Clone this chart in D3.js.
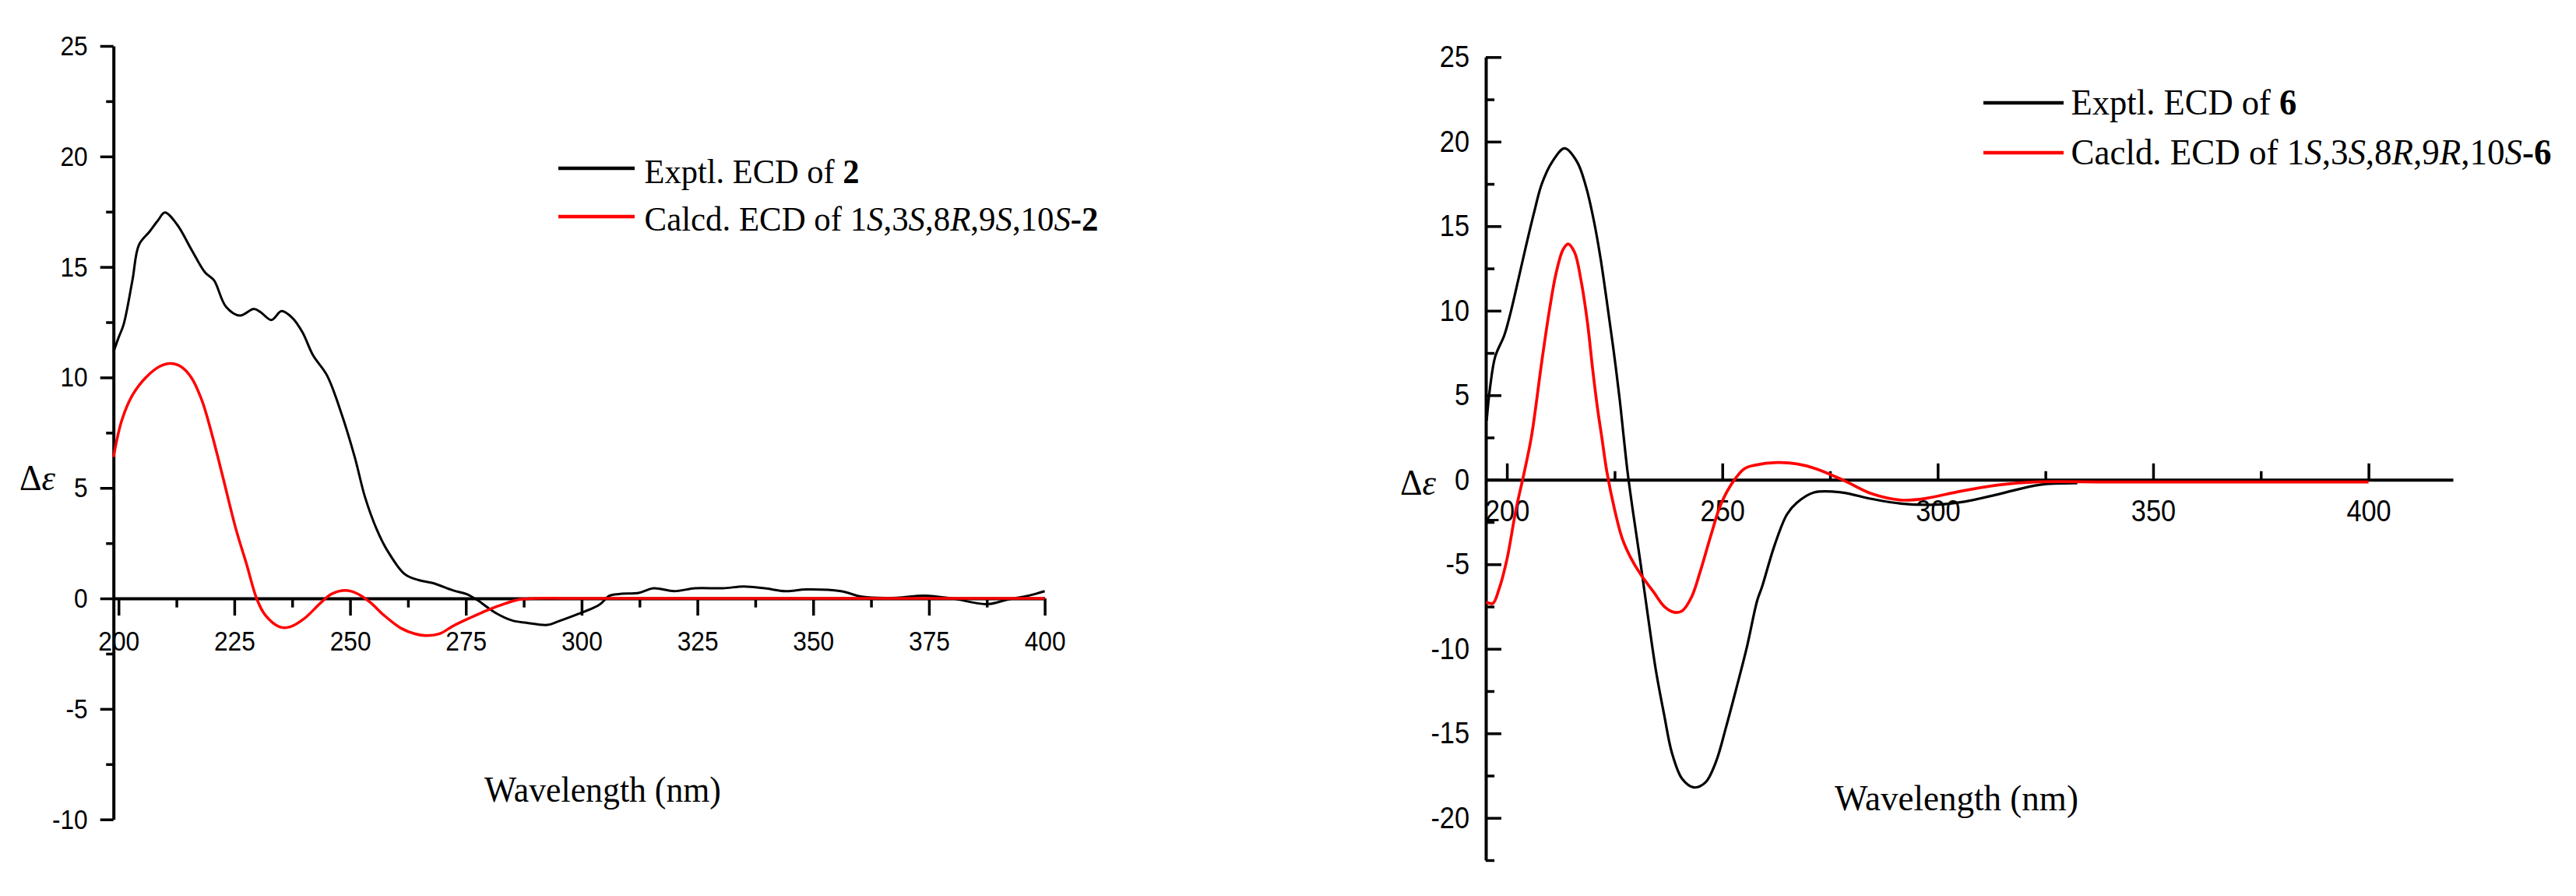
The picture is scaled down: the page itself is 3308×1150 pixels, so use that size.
<!DOCTYPE html>
<html>
<head>
<meta charset="utf-8">
<script src="https://cdn.jsdelivr.net/npm/d3@7"></script>
<style>
  body { margin: 0; background: #fff; }
</style>
</head>
<body>
<svg id="chart"></svg>
<script>
// ECD spectra as [wavelength (nm), delta epsilon]
const exptl2 = [
  [198.9, 11.15], [200, 11.8], [201.1, 12.4], [203, 14.4], [204.4, 16.0], [206.7, 16.6],
  [208.5, 17.1], [210, 17.46], [212.7, 16.9], [215.7, 15.8], [218.7, 14.75], [220.6, 14.4],
  [223.2, 13.2], [226.2, 12.8], [229.2, 13.1], [230.7, 12.95], [233, 12.6], [235.2, 13.0],
  [237.5, 12.7], [239.7, 12.05], [242, 11.0], [245, 10.1], [248, 8.45], [251, 6.4],
  [253.2, 4.6], [255.8, 3.1], [258, 2.18], [261.8, 1.1], [264.8, 0.83], [267.8, 0.7],
  [272.3, 0.36], [275.3, 0.18], [277.5, -0.08], [281.3, -0.64], [285, -1.0], [288, -1.1],
  [292.6, -1.2], [294.8, -1.05], [299.3, -0.7], [303.8, -0.29], [306, 0.12], [308, 0.2],
  [312.5, 0.26], [315.5, 0.46], [320, 0.33], [324.5, 0.46], [330.5, 0.46], [335, 0.54],
  [339.5, 0.46], [344, 0.33], [348.5, 0.41], [356, 0.33], [360.5, 0.08], [368, 0.03],
  [374, 0.13], [380, 0], [387.5, -0.26], [392, -0.05], [396.6, 0.13], [400, 0.33]
];
const calcd2 = [
  [198.9, 6.4], [200.7, 8.06], [203, 9.2], [205.9, 10.0], [208.9, 10.5], [211.2, 10.63],
  [213.4, 10.5], [215.7, 10.0], [218, 8.96], [220.2, 7.4], [222.4, 5.6], [225.4, 3.1],
  [227.6, 1.58], [229.9, -0.05], [231.7, -0.76], [234.8, -1.29], [237, -1.29], [240, -0.93],
  [243.8, -0.17], [246, 0.2], [249, 0.36], [251.3, 0.24], [254.3, -0.17], [257.3, -0.76],
  [261, -1.35], [264, -1.6], [266.3, -1.68], [269.3, -1.6], [272.3, -1.24], [276, -0.87],
  [279.8, -0.52], [283.5, -0.23], [286.5, -0.05], [290, 0], [300, 0], [320, 0],
  [350, 0], [380, 0], [400, 0]
];
const exptl6 = [
  [195.3, 3.5], [196.1, 5.48], [197.3, 7.3], [199.4, 8.55], [200.9, 9.93], [202.7, 11.9],
  [204.5, 13.9], [206.3, 15.8], [208.1, 17.5], [210.5, 18.8], [213.4, 19.6], [216.3, 18.8],
  [218.4, 17.3], [220.2, 15.3], [221.7, 13.16], [223.2, 10.54], [224.7, 7.78], [226.2, 4.71],
  [227.1, 2.56], [228, 0.48], [229.2, -1.77], [231, -4.9], [232.8, -8.18], [234.6, -11.3],
  [236.5, -13.9], [238.3, -16.15], [240.7, -17.7], [243.4, -18.2], [246.1, -17.9], [248.5, -16.7],
  [250.9, -14.6], [253.3, -12.3], [255.7, -9.9], [258.1, -7.14], [259.2, -6.35], [262.1, -3.9],
  [265, -2.05], [267.3, -1.36], [271.3, -0.75], [277.7, -0.75], [284.6, -1.13], [291.5, -1.41],
  [299.6, -1.47], [306.5, -1.28], [314.6, -0.82], [323.8, -0.29], [332.4, -0.2]
];
const calcd6 = [
  [195.2, -7.23], [196.7, -7.32], [198.2, -6.45], [200, -4.72], [202.1, -1.77], [203.9, 0.3],
  [205.7, 2.56], [208.1, 7.0], [209.9, 10.08], [211.4, 12.2], [213, 13.6], [214.2, 13.95],
  [215.7, 13.46], [217.2, 11.8], [218.7, 9.3], [219.9, 6.55], [221.1, 4.1], [222, 2.56],
  [223.2, 0.48], [225, -1.77], [226.8, -3.5], [228.6, -4.54], [231, -5.58], [234, -6.62],
  [236.5, -7.49], [238.9, -7.84], [240.7, -7.75], [242.8, -6.97], [244.9, -5.41], [247.3, -3.33],
  [249.7, -1.43], [252.7, -0.04], [255.1, 0.65], [257.5, 0.86], [262.7, 1.02], [267.3, 0.94],
  [271.9, 0.64], [278.3, -0.05], [284.6, -0.82], [291.5, -1.2], [297.3, -1.1], [305.4, -0.67],
  [314.6, -0.29], [322.6, -0.13], [340, -0.13], [370, -0.13], [400, -0.13]
];

// tick values
const xMajorLeft = [200, 225, 250, 275, 300, 325, 350, 375, 400];
const xMinorLeft = [212.5, 237.5, 262.5, 287.5, 312.5, 337.5, 362.5, 387.5];
const yMajorLeft = [-10, -5, 0, 5, 10, 15, 20, 25];
const yMinorLeft = [-7.5, -2.5, 2.5, 7.5, 12.5, 17.5, 22.5];
const xMajorRight = [200, 250, 300, 350, 400];
const xMinorRight = [225, 275, 325, 375];
const yMajorRight = [-20, -15, -10, -5, 0, 5, 10, 15, 20, 25];
const yMinorRight = [-22.5, -17.5, -12.5, -7.5, -2.5, 2.5, 7.5, 12.5, 17.5, 22.5];

// legend labels: [text, style]
const legendLeft = [
  [["Exptl. ECD of ", ""], ["2", "b"]],
  [["Calcd. ECD of 1", ""], ["S", "i"], [",3", ""], ["S", "i"], [",8", ""], ["R", "i"],
   [",9", ""], ["S", "i"], [",10", ""], ["S", "i"], ["-2", "b"]]
];
const legendRight = [
  [["Exptl. ECD of ", ""], ["6", "b"]],
  [["Cacld. ECD of 1", ""], ["S", "i"], [",3", ""], ["S", "i"], [",8", ""], ["R", "i"],
   [",9", ""], ["R", "i"], [",10", ""], ["S", "i"], ["-6", "b"]]
];

const W = 3308, H = 1150;
const tickFont = "'Liberation Sans', Arial, sans-serif";
const serifFont = "'Liberation Serif', 'Times New Roman', serif";
const squeeze = 0.88;

const svg = d3.select("#chart").attr("width", W).attr("height", H);
svg.append("rect").attr("width", W).attr("height", H).attr("fill", "#fff");

function squeezeTicks(g) {
  g.selectAll(".tick text").each(function() {
    const t = d3.select(this);
    const x = +t.attr("x") || 0;
    t.attr("x", x / squeeze).attr("transform", `scale(${squeeze},1)`);
  });
}

function styleAxis(g, fontSize) {
  g.attr("color", "#000")
    .style("font-family", tickFont)
    .style("font-size", fontSize + "px");
  g.select(".domain").attr("stroke-width", 4);
  g.selectAll(".tick line").attr("stroke-width", 3.5);
}

// place a serif label at (x, baseline) and squeeze it horizontally to a target width
function fitText(parts, x, y, size, width) {
  const t = svg.append("text")
    .attr("font-family", serifFont).attr("font-size", size);
  parts.forEach(([s, st]) => {
    const ts = t.append("tspan").text(s);
    if (st === "i") ts.attr("font-style", "italic");
    if (st === "b") ts.attr("font-weight", "bold");
  });
  const natural = t.node().getComputedTextLength();
  const sx = width / natural;
  t.attr("transform", `translate(${x},${y}) scale(${sx},1)`);
  return t;
}

function drawPanel(p) {
  const x = d3.scaleLinear().domain(p.xDomain).range(p.xRange);
  const y = d3.scaleLinear().domain(p.yDomain).range(p.yRange);
  const fmt = d => String(d);

  // y axis
  const gy = svg.append("g").attr("transform", `translate(${p.xRange[0]},0)`);
  gy.call(d3.axisLeft(y).tickValues(p.yMajor).tickSize(p.yTick).tickSizeOuter(0)
      .tickPadding(p.yPad).tickFormat(fmt));
  styleAxis(gy, p.fontSize);
  squeezeTicks(gy);
  const gym = svg.append("g").attr("transform", `translate(${p.xRange[0]},0)`);
  gym.call(d3.axisLeft(y).tickValues(p.yMinor).tickSize(p.yTick / 1.8).tickFormat(() => ""));
  gym.select(".domain").remove();
  styleAxis(gym, p.fontSize);

  // x axis on the zero line
  const gx = svg.append("g").attr("transform", `translate(0,${y(0)})`);
  gx.call(d3.axisBottom(x).tickValues(p.xMajor).tickSize(p.xTick).tickSizeOuter(0)
      .tickPadding(p.xPad).tickFormat(fmt));
  styleAxis(gx, p.fontSize);
  squeezeTicks(gx);
  const gxm = svg.append("g").attr("transform", `translate(0,${y(0)})`);
  gxm.call(d3.axisBottom(x).tickValues(p.xMinor).tickSize(p.xTick / 1.9).tickFormat(() => ""));
  gxm.select(".domain").remove();
  styleAxis(gxm, p.fontSize);

  // spectra
  const line = d3.line()
    .x(d => x(d[0]))
    .y(d => y(d[1]))
    .curve(d3.curveCatmullRom.alpha(0.5));
  svg.append("path").datum(p.exptl)
    .attr("fill", "none").attr("stroke", "#000")
    .attr("stroke-width", p.lineWidth).attr("stroke-linejoin", "round")
    .attr("d", line);
  svg.append("path").datum(p.calcd)
    .attr("fill", "none").attr("stroke", "#ff0000")
    .attr("stroke-width", p.lineWidth + 0.5).attr("stroke-linejoin", "round")
    .attr("d", line);

  // delta epsilon label
  fitText([["Δ", ""], ["ε", "i"]], p.dePos[0], p.dePos[1], 46, 46);

  // x axis title
  fitText([["Wavelength (nm)", ""]], p.titlePos[0], p.titlePos[1], p.titleSize, p.titleLen);

  // legend
  const colors = ["#000", "#ff0000"];
  p.legend.forEach((parts, i) => {
    const ly = p.legendLineY[i];
    svg.append("line")
      .attr("x1", p.legendLineX[0]).attr("x2", p.legendLineX[1])
      .attr("y1", ly).attr("y2", ly)
      .attr("stroke", colors[i]).attr("stroke-width", 4.5);
    fitText(parts, p.legendTextX, p.legendBase[i], p.legendSize, p.legendLen[i]);
  });
}

drawPanel({
  xDomain: [198.9, 400], xRange: [145.7, 1341.6],
  yDomain: [-10, 25], yRange: [1051.7, 59],
  xMajor: xMajorLeft, xMinor: xMinorLeft, yMajor: yMajorLeft, yMinor: yMinorLeft,
  xTick: 22, xPad: 19, yTick: 17, yPad: 16, fontSize: 36,
  exptl: exptl2, calcd: calcd2, lineWidth: 3,
  dePos: [25, 629],
  titlePos: [622, 1029], titleSize: 46, titleLen: 304,
  legend: legendLeft, legendLineX: [717, 815], legendLineY: [216, 278],
  legendTextX: 827.6, legendBase: [235, 296], legendSize: 45, legendLen: [276, 583]
});

drawPanel({
  xDomain: [195.1, 419.6], xRange: [1908, 3150],
  yDomain: [-22.5, 25], yRange: [1104, 73.3],
  xMajor: xMajorRight, xMinor: xMinorRight, yMajor: yMajorRight, yMinor: yMinorRight,
  xTick: -21, xPad: 26, yTick: -20, yPad: 21, fontSize: 39,
  exptl: exptl6, calcd: calcd6, lineWidth: 3.2,
  dePos: [1798, 635],
  titlePos: [2356, 1040], titleSize: 47, titleLen: 313,
  legend: legendRight, legendLineX: [2547, 2650], legendLineY: [132, 196],
  legendTextX: 2659.5, legendBase: [147, 211], legendSize: 47, legendLen: [290, 617]
});
</script>
</body>
</html>
